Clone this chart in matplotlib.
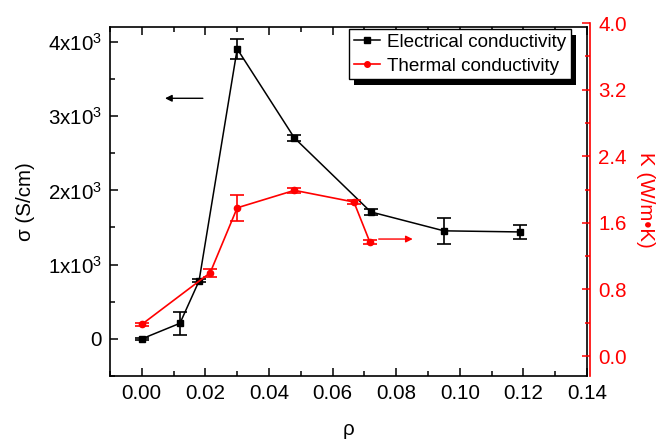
import matplotlib
matplotlib.use("Agg")
import matplotlib.pyplot as plt
from matplotlib.lines import Line2D
from matplotlib.patches import Rectangle
from matplotlib.ticker import FixedLocator, MultipleLocator

plt.rcParams['font.family'] = ['Liberation Sans', 'DejaVu Sans']
plt.rcParams['mathtext.fontset'] = 'custom'
plt.rcParams['mathtext.rm'] = 'Liberation Sans'
plt.rcParams['mathtext.it'] = 'Liberation Sans:italic'

# electrical conductivity (left axis)
rho_e = [0.000, 0.012, 0.018, 0.030, 0.048, 0.072, 0.095, 0.119]
sigma = [0, 210, 780, 3905, 2705, 1710, 1455, 1440]
sigma_err = [15, 155, 20, 130, 35, 45, 175, 100]

# thermal conductivity (right axis)
rho_t = [0.000, 0.0215, 0.030, 0.048, 0.0667, 0.0717]
kappa = [0.38, 1.00, 1.78, 1.99, 1.85, 1.37]
kappa_err = [0.02, 0.045, 0.16, 0.03, 0.02, 0.02]

sigma_ticks = [0, 1000, 2000, 3000, 4000]
sigma_labels = ['0', r'1x10$^{\mathregular{3}}$', r'2x10$^{\mathregular{3}}$',
                r'3x10$^{\mathregular{3}}$', r'4x10$^{\mathregular{3}}$']
kappa_ticks = [0.0, 0.8, 1.6, 2.4, 3.2, 4.0]
x_ticks = [0.00, 0.02, 0.04, 0.06, 0.08, 0.10, 0.12, 0.14]

# arrows pointing at the axis each curve belongs to
arrow_left = ((0.0192, 3240), (0.0073, 3240))
arrow_right = ((0.0745, 1.405), (0.0852, 1.405))

W, H = 664, 440
fig = plt.figure(figsize=(W / 100, H / 100), dpi=100)
ax = fig.add_axes([110 / W, 64 / H, 477 / W, 349 / H])
ax2 = fig.add_axes([110 / W, 64 / H, 477 / W, 353 / H])
ax2.patch.set_visible(False)

fs = 14.8
red = '#ff0000'

ax.errorbar(rho_e, sigma, yerr=sigma_err, color='black', marker='s', ms=5,
            lw=1.1, elinewidth=1.2, capsize=5, capthick=1.2)
ax2.errorbar(rho_t, kappa, yerr=kappa_err, color=red, marker='o', ms=4.5,
             lw=1.2, elinewidth=1.2, capsize=5, capthick=1.2)

ax.set_xlim(-0.01, 0.14)
ax.set_ylim(-500, 4200)
ax2.set_xlim(-0.01, 0.14)
ax2.set_ylim(-0.24, 4.0)

ax.xaxis.set_major_locator(FixedLocator(x_ticks))
ax.set_xticklabels([f'{v:.2f}' for v in x_ticks])
ax.xaxis.set_minor_locator(MultipleLocator(0.01))
ax.yaxis.set_major_locator(FixedLocator(sigma_ticks))
ax.set_yticklabels(sigma_labels)
ax.yaxis.set_minor_locator(MultipleLocator(500))
ax.tick_params(which='both', direction='in', top=True, right=False,
               labelsize=fs, width=1.1, pad=6)
ax.tick_params(which='major', length=6)
ax.tick_params(which='minor', length=3.5)
for s in ax.spines.values():
    s.set_linewidth(1.2)

ax2.xaxis.set_visible(False)
for side in ['left', 'top', 'bottom']:
    ax2.spines[side].set_visible(False)
ax2.spines['right'].set_color(red)
ax2.spines['right'].set_linewidth(1.2)
ax2.spines['right'].set_position(('outward', 2))
ax2.yaxis.tick_right()
ax2.yaxis.set_label_position('right')
ax2.yaxis.set_major_locator(FixedLocator(kappa_ticks))
ax2.set_yticklabels([f'{v:.1f}' for v in kappa_ticks])
ax2.yaxis.set_minor_locator(MultipleLocator(0.4))
ax2.tick_params(axis='y', which='both', direction='in', colors=red,
                labelsize=fs, width=1.1, pad=6)
ax2.tick_params(axis='y', which='major', length=6)
ax2.tick_params(axis='y', which='minor', length=3.5)

ax.set_xlabel('ρ', fontsize=fs, labelpad=12)
ax.set_ylabel('σ (S/cm)', fontsize=fs, labelpad=9)
ax2.set_ylabel('K (W/m•K)', fontsize=fs, color=red, rotation=270, labelpad=20)

ax.annotate('', xy=arrow_left[1], xytext=arrow_left[0],
            arrowprops=dict(arrowstyle='-|>', color='black', lw=1,
                            mutation_scale=10, shrinkA=0, shrinkB=0))
ax2.annotate('', xy=arrow_right[1], xytext=arrow_right[0],
             arrowprops=dict(arrowstyle='-|>', color=red, lw=1,
                             mutation_scale=10, shrinkA=0, shrinkB=0))

h1 = Line2D([], [], color='black', marker='s', ms=4, lw=1.1)
h2 = Line2D([], [], color=red, marker='o', ms=4, lw=1.2)
leg = ax2.legend([h1, h2], ['Electrical conductivity', 'Thermal conductivity'],
                 loc='upper right', bbox_to_anchor=(571 / W, 1 - 29 / H),
                 bbox_transform=fig.transFigure, borderaxespad=0,
                 fontsize=13.6, frameon=True, fancybox=False, edgecolor='black',
                 framealpha=1, handlelength=1.4, handletextpad=0.35,
                 labelspacing=0.35, borderpad=0.25)
leg.get_frame().set_linewidth(1)
leg.set_zorder(10)

# hard black drop shadow behind the legend box
fig.canvas.draw()
bb = leg.get_window_extent().transformed(fig.transFigure.inverted())
shadow = Rectangle((bb.x0 + 5 / W, bb.y0 - 6 / H), bb.width, bb.height,
                   transform=fig.transFigure, facecolor='black', edgecolor='none',
                   zorder=9, clip_on=False)
ax2.add_patch(shadow)

fig.savefig('out.png', dpi=100)
